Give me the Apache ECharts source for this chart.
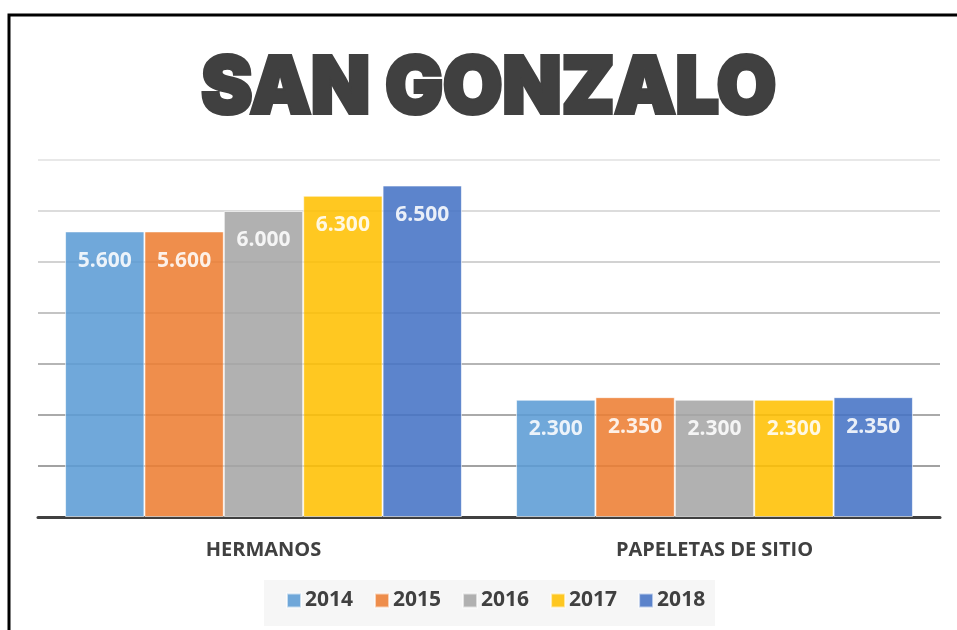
<!DOCTYPE html>
<html>
<head>
<meta charset="utf-8">
<script src="https://cdn.jsdelivr.net/npm/echarts@6/dist/echarts.min.js"></script>
<style>
  html, body { margin: 0; padding: 0; background: #fff; }
  #chart { width: 957px; height: 630px; }
</style>
</head>
<body>
<div id="chart"></div>
<script>
const categories = ['HERMANOS', 'PAPELETAS DE SITIO']
const years = ['2014', '2015', '2016', '2017', '2018']
const values2014 = [5600, 2300]
const values2015 = [5600, 2350]
const values2016 = [6000, 2300]
const values2017 = [6300, 2300]
const values2018 = [6500, 2350]
const colors = ['#5B9BD5', '#ED7D31', '#A5A5A5', '#FFC000', '#4472C4']

const seriesValues = [values2014, values2015, values2016, values2017, values2018]
const font = '"Open Sans", sans-serif'

// 1.234 style thousands (spanish)
function fmt(v) {
  return (v / 1000).toFixed(3)
}

const chart = echarts.init(document.getElementById('chart'))

chart.setOption({
  animation: false,
  color: colors,
  graphic: [
    {
      type: 'polyline',
      shape: { points: [[9, 640], [9, 15], [960, 15]] },
      style: { stroke: '#000', lineWidth: 3, fill: null },
      z: 10
    },
    {
      type: 'rect',
      shape: { x: 264, y: 580, width: 451, height: 46 },
      style: { fill: '#f6f6f6' },
      z: -1
    },
    {
      type: 'text',
      x: 474,
      y: 50,
      originX: 488,
      scaleX: 0.97,
      style: {
        text: 'SAN GONZALO',
        x: 0,
        y: 0,
        textAlign: 'center',
        font: '900 79px Inter, sans-serif',
        fill: '#404040',
        stroke: '#404040',
        lineWidth: 4
      }
    }
  ],
  legend: {
    data: years,
    bottom: 14,
    left: 281,
    itemWidth: 14,
    itemHeight: 14,
    itemGap: 21,
    icon: 'rect',
    textStyle: {
      color: '#404040',
      fontSize: 21,
      fontWeight: 'bold',
      fontFamily: font,
      padding: [0, 0, 0, -1]
    }
  },
  grid: {
    left: 38,
    right: 17,
    top: 160,
    bottom: 113
  },
  xAxis: {
    type: 'category',
    data: categories,
    axisTick: { show: false },
    axisLine: { lineStyle: { color: '#404040', width: 3 } },
    axisLabel: {
      color: '#404040',
      fontSize: 20,
      fontWeight: 'bold',
      fontFamily: font,
      margin: 23
    }
  },
  yAxis: {
    type: 'value',
    min: 0,
    max: 7000,
    interval: 1000,
    axisLabel: { show: false },
    axisLine: { show: false },
    axisTick: { show: false },
    splitLine: {
      lineStyle: {
        width: 2,
        color: ['#999999', '#a2a2a2', '#aaaaaa', '#b5b5b5', '#c4c4c4', '#d2d2d2', '#dcdcdc', '#e8e8e8']
      }
    }
  },
  series: years.map((y, i) => ({
    name: y,
    type: 'bar',
    data: seriesValues[i],
    barGap: '0%',
    barCategoryGap: '12%',
    itemStyle: {
      opacity: 0.87,
      borderColor: 'rgba(255,255,255,0.7)',
      borderWidth: 1
    },
    label: {
      show: true,
      position: 'insideTop',
      distance: 19,
      color: '#fff',
      fontSize: 21,
      fontWeight: 'bold',
      fontFamily: font,
      formatter: (p) => fmt(p.value)
    }
  }))
})
</script>
</body>
</html>
